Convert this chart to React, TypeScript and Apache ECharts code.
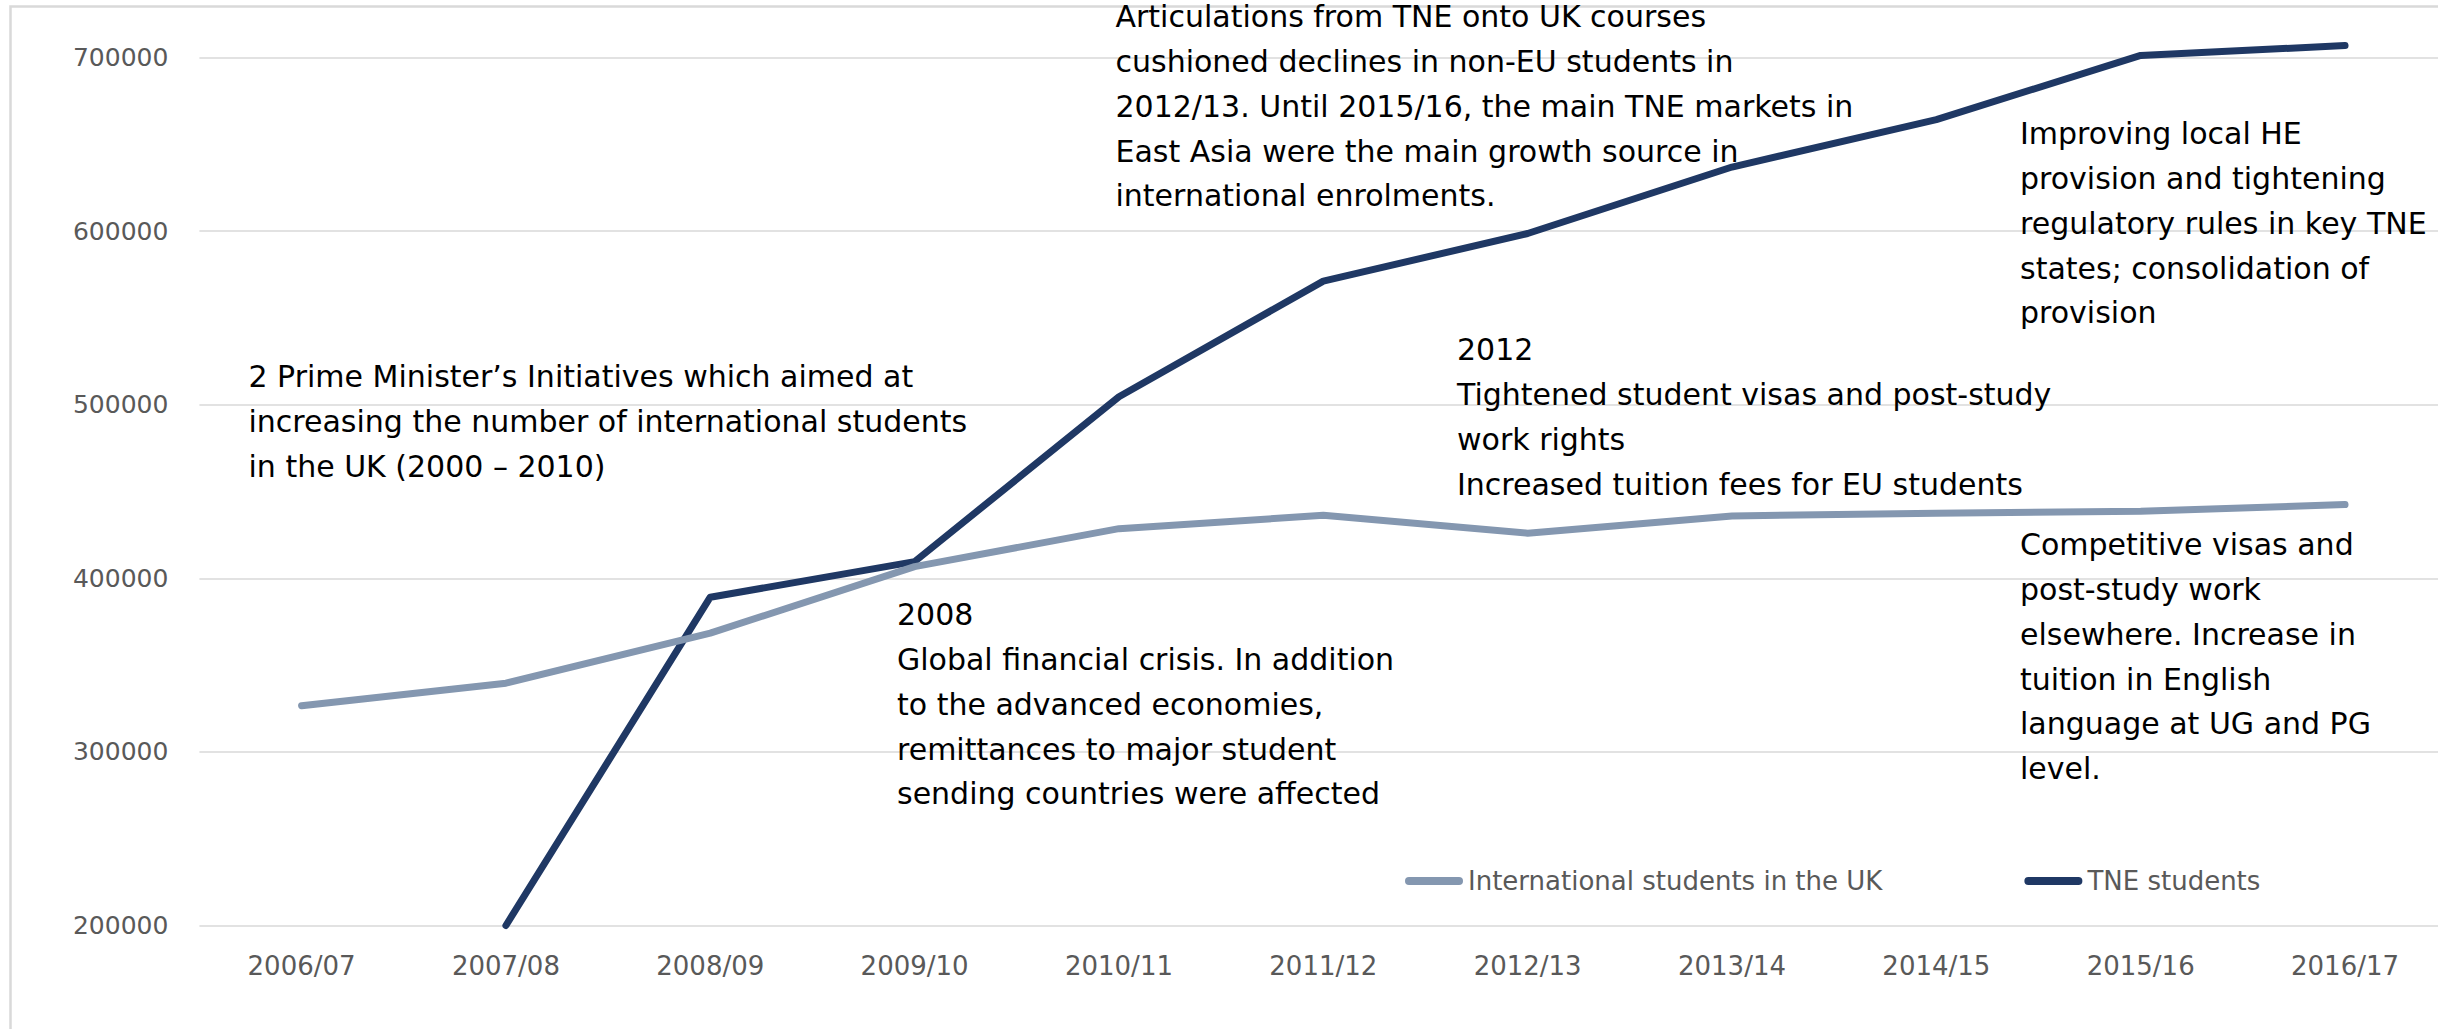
import React, { useEffect, useRef } from "react";
import * as echarts from "echarts";

// ---- Data ----
const categories = [
  "2006/07", "2007/08", "2008/09", "2009/10", "2010/11", "2011/12",
  "2012/13", "2013/14", "2014/15", "2015/16", "2016/17",
];
const internationalStudents = [
  326600, 339600, 368400, 406700, 428600, 436300,
  426000, 435900, 437500, 438600, 442500,
];
const tneStudents = [
  null, 200000, 389100, 409600, 504600, 571200,
  598600, 636900, 664200, 701200, 706900,
];
const seriesNames = ["International students in the UK", "TNE students"];
const yMin = 200000;
const yMax = 700000;
const yStep = 100000;

// ---- Annotation texts ----
const noteInitiatives = [
  "2 Prime Minister’s Initiatives which aimed at",
  "increasing the number of international students",
  "in the UK (2000 – 2010)",
];
const noteArticulations = [
  "Articulations from TNE onto UK courses",
  "cushioned declines in non-EU students in",
  "2012/13. Until 2015/16, the main TNE markets in",
  "East Asia were the main growth source in",
  "international enrolments.",
];
const noteCrisis = [
  "2008",
  "Global financial crisis. In addition",
  "to the advanced economies,",
  "remittances to major student",
  "sending countries were affected",
];
const noteVisas = [
  "2012",
  "Tightened student visas and post-study",
  "work rights",
  "Increased tuition fees for EU students",
];
const noteLocalHE = [
  "Improving local HE",
  "provision and tightening",
  "regulatory rules in key TNE",
  "states; consolidation of",
  "provision",
];
const noteCompetitive = [
  "Competitive visas and",
  "post-study work",
  "elsewhere. Increase in",
  "tuition in English",
  "language at UG and PG",
  "level.",
];

const FONT = "DejaVu Sans";
const LINE_H = 44.7;

function note(lines: string[], x: number, firstLineCenter: number) {
  return {
    type: "text",
    silent: true,
    z: 10,
    x,
    y: firstLineCenter - LINE_H / 2,
    style: {
      text: lines.join("\n"),
      fontFamily: FONT,
      fontSize: 30,
      lineHeight: LINE_H,
      fill: "#000000",
      align: "left",
      verticalAlign: "top",
    },
  };
}

export default function App() {
  const ref = useRef<HTMLDivElement>(null);

  useEffect(() => {
    if (!ref.current) return;
    const chart = echarts.init(ref.current, null, { renderer: "svg" });
    chart.setOption({
      animation: false,
      backgroundColor: "#ffffff",
      grid: { left: 199.4, right: 12.8, top: 57.5, bottom: 114.5, containLabel: false },
      legend: {
        left: 1400,
        top: 863,
        itemGap: 142,
        itemWidth: 58,
        itemHeight: 8,
        icon: "path://M4 0H54A4 4 0 0 1 54 8H4A4 4 0 0 1 4 0Z",
        itemStyle: { borderWidth: 0 },
        textStyle: { fontFamily: FONT, fontSize: 26, color: "#595959" },
        data: seriesNames,
      },
      xAxis: {
        type: "category",
        data: categories,
        boundaryGap: true,
        axisLine: { show: false },
        axisTick: { show: false },
        axisLabel: { fontFamily: FONT, fontSize: 26, color: "#595959", margin: 27 },
        splitLine: { show: false },
      },
      yAxis: {
        type: "value",
        min: yMin,
        max: yMax,
        interval: yStep,
        axisLine: { show: false },
        axisTick: { show: false },
        axisLabel: {
          fontFamily: FONT,
          fontSize: 25,
          color: "#595959",
          margin: 31,
          formatter: (v: number) => String(v),
        },
        splitLine: { show: true, lineStyle: { color: "#d9d9d9", width: 1.6 } },
      },
      series: [
        {
          name: seriesNames[0],
          type: "line",
          data: internationalStudents,
          showSymbol: false,
          symbol: "none",
          clip: false,
          z: 3,
          itemStyle: { color: "#8497b0" },
          lineStyle: { color: "#8497b0", width: 7, cap: "round", join: "round" },
        },
        {
          name: seriesNames[1],
          type: "line",
          data: tneStudents,
          showSymbol: false,
          symbol: "none",
          clip: false,
          z: 2,
          itemStyle: { color: "#1f3864" },
          lineStyle: { color: "#1f3864", width: 7, cap: "round", join: "round" },
        },
      ],
      graphic: [
        {
          type: "rect",
          silent: true,
          z: -10,
          shape: { x: 10.5, y: 6.5, width: 2700, height: 1300 },
          style: { fill: "none", stroke: "#d9d9d9", lineWidth: 2.5 },
        },
        note(noteInitiatives, 248.5, 377),
        note(noteArticulations, 1115.5, 17),
        note(noteCrisis, 897, 615),
        note(noteVisas, 1457, 350),
        note(noteLocalHE, 2020, 134),
        note(noteCompetitive, 2020, 545),
      ],
    });
    return () => chart.dispose();
  }, []);

  return (
    <div
      ref={ref}
      style={{ position: "fixed", left: 0, top: 0, width: 2460, height: 1040, background: "#fff" }}
    />
  );
}
